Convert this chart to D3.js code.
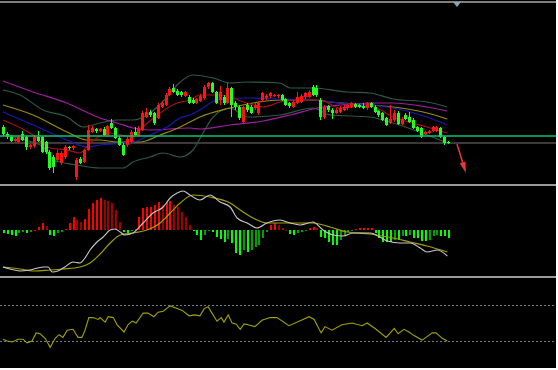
<!DOCTYPE html>
<html>
<head>
<meta charset="utf-8">
<script src="https://cdn.jsdelivr.net/npm/d3@7"></script>
<style>
  body { margin: 0; background: #fff; }
  svg { display: block; }
</style>
</head>
<body>
<svg id="chart" width="558" height="370"></svg>
<script>
// ----------------------- DATA -------------------------------
// candles (price units)
var opens  = [58,51,48,44,43,51,48,38,39,48,48,43,33,28,25,22,28,38,37,8,26,23,35,53,56,54,56,50,62,57,47,40,40,43,53,49,55,68,73,72,67,78,80,90,97,94,93,89,88,85,82,84,87,98,102,93,85,88,82,97,82,78,63,80,78,77,72,85,87,89,89,89,90,86,82,78,82,83,88,88,98,97,85,68,79,75,72,73,75,77,78,81,80,79,77,82,78,74,72,67,62,65,72,61,70,68,65,58,57,51,52,54,54,57,48,43];
var closes = [51,48,44,46,48,45,38,40,48,44,33,33,17,18,32,32,38,37,39,25,22,35,55,57,54,56,50,59,57,47,40,30,46,53,50,57,72,73,70,62,80,82,90,96,93,90,90,93,82,82,86,89,98,102,93,82,93,82,97,80,78,67,78,75,72,80,82,92,89,92,90,90,85,80,79,83,88,89,92,93,90,90,68,78,75,72,75,77,78,80,82,78,78,77,82,78,73,70,65,60,66,72,61,66,66,63,57,54,48,53,54,58,58,48,42,42];
var highs  = [60,53,50,47,50,54,49,41,50,54,49,44,35,30,35,34,40,39,40,27,28,36,60,59,57,57,58,60,66,58,49,42,48,55,58,59,74,77,75,73,82,84,92,98,101,96,94,94,90,87,87,91,100,103,103,94,99,90,102,98,84,80,79,82,80,82,84,93,91,93,91,91,91,87,83,85,93,91,93,95,100,100,87,80,80,77,77,79,80,81,83,82,81,82,83,83,80,75,73,68,80,75,74,68,72,73,67,59,58,54,55,59,59,58,49,44];
var lows   = [49,46,43,43,42,44,35,36,37,43,32,31,15,12,23,20,26,35,35,5,21,22,34,52,52,53,49,48,56,46,39,29,38,42,49,48,54,67,68,60,66,77,79,89,92,89,88,88,81,81,81,83,85,96,92,81,80,80,81,68,75,65,61,73,71,75,70,83,85,87,88,87,84,79,77,77,81,82,86,87,89,88,65,66,73,66,71,72,74,75,77,77,77,76,75,77,72,68,64,59,61,63,60,60,65,62,56,53,47,50,51,53,53,47,40,41];

// moving averages / bands as [candle index, price]
var maRed    = [[0,65],[7.8,50],[12.2,37],[16.6,35],[19.9,32],[22.5,42],[27.7,52],[33.6,48],[36.2,58],[40.6,72],[45,82],[48.3,85],[50.9,90],[56.1,90],[63,82],[67.2,78],[71.6,83],[76,85],[81.9,85],[87.1,77],[94.8,79],[100.8,68],[109.6,58],[114.8,52]];
var maBlue   = [[0,73],[7.8,60],[16.6,45],[21.7,38],[25.1,40],[33.6,43],[38,50],[42.4,58],[45.8,67],[48.3,70],[50.9,75],[55.3,85],[63,87],[71.6,86],[80.1,85],[87.1,82],[94.8,80],[100.8,77],[109.6,68],[114.8,60]];
var maOlive  = [[0,80],[7.8,70],[16.6,53],[21.7,45],[25.1,45],[29.5,43],[35.4,43],[40.6,50],[45.8,58],[48.3,63],[50.9,68],[58.7,77],[64.6,82],[71.6,85],[80.1,85],[84.5,83],[94.8,80],[100.8,78],[109.6,72],[114.8,66]];
var maPurple = [[0,104],[7.8,93],[16.5,82],[25.1,67],[29.5,62],[33.6,57],[38,55],[48.3,57],[50.9,56],[58.7,60],[67.2,64],[74.2,70],[81.2,77],[87.1,80],[94.8,82],[100.8,82],[109.6,78],[114.8,74]];
var bandUp   = [[0,95],[4.4,90],[10.4,75],[16.6,68],[20.7,58],[25.1,62],[29.5,65],[33.6,65],[38,72],[42.4,88],[45,100],[49.1,110],[54.3,107],[58.7,102],[63,103],[71.6,102],[74.2,97],[80.1,97],[88.9,93],[94.8,92],[100.8,86],[109.6,83],[114.8,78]];
var bandLow  = [[0,50],[5.7,45],[10.4,38],[13,25],[19.1,20],[25.1,17],[31,17],[33.6,23],[38,28],[41.4,32],[45.8,28],[49.1,35],[51.7,52],[54.3,68],[58.7,77],[63,68],[71.6,70],[80.1,77],[84.5,70],[94.8,68],[100.8,62],[109.6,50],[114.8,42]];
var levelGreen = 49, levelGray = 42;
var arrowFrom = [117.3, 41], arrowTo = [119.6, 12];

// MACD histogram per candle, DIF / DEA lines as [index, value]
var macdHist = [-3,-4,-5,-6,-3,-2,-3,-2,0,3,7,4,-5,-6,-3,-2,1,7,13,10,8,11,21,27,30,32,30,29,27,20,8,-2,-3,-1,1,13,22,23,23,25,28,25,28,29,25,23,18,13,5,-1,-5,-10,-5,-1,-2,-7,-9,-12,-9,-13,-23,-25,-20,-22,-20,-17,-15,-8,-2,5,7,5,2,0,-4,-5,-3,-2,-1,2,3,2,-7,-8,-12,-15,-15,-10,-5,-2,-1,1,2,2,2,2,-3,-8,-12,-12,-12,-10,-10,-6,-6,-5,-8,-8,-11,-11,-10,-6,-5,-6,-6,-8];
var difLine = [[0,-37],[1.8,-39],[4.4,-41],[7,-40],[10.4,-37],[11.7,-37],[12.7,-42],[14.2,-41],[16,-37],[18.1,-32],[19.9,-33],[21.2,-28],[22.5,-20],[24.3,-12],[25.9,-7],[27.7,0],[29,1],[30.3,-2],[31.5,-5],[33.6,-3],[36.2,7],[38.8,17],[41.4,23],[43.2,32],[45,37],[46.5,39],[48.3,35],[50.9,30],[53.5,35],[56.1,28],[58.7,23],[60.5,12],[63.1,7],[65.7,2],[68.2,7],[71.6,10],[74.2,7],[76.8,5],[80.1,8],[82.7,0],[85.3,-5],[87.9,-6],[90.5,-3],[94.9,-3],[97.4,-7],[99.3,-11],[102.6,-13],[105.2,-13],[107.8,-18],[109.6,-22],[112.2,-20],[114.8,-26]];
var deaLine = [[0,-37],[4.4,-39],[7.8,-41],[12.2,-40],[15.5,-39],[19.9,-37],[22.5,-33],[25.1,-24],[27.7,-13],[30.3,-5],[33.6,-3],[37.2,0],[40.6,7],[43.2,17],[45.8,27],[49.1,35],[53.5,33],[58.7,27],[61.3,20],[65.7,10],[68.2,7],[71.6,7],[80.1,7],[84.5,3],[88.9,-2],[94.9,-4],[100.8,-8],[105.2,-12],[109.6,-16],[114.8,-22]];

// RSI as [index, value], guide levels
var rsiLine = [[0,32],[1.1,30],[2.4,29],[3.9,32],[5.2,32],[6.2,28],[7.5,30],[8.6,39],[9.6,38],[10.9,33],[12.2,23],[13.5,33],[14.5,37],[15.5,34],[16.6,42],[18.1,43],[19.4,34],[20.4,34],[21.2,42],[22.2,56],[23.3,56],[24.6,54],[25.1,56],[26.4,51],[27.2,57],[28.5,56],[29.5,48],[31.3,40],[32.3,48],[33.4,52],[34.4,50],[35.4,56],[36.2,61],[37.5,61],[39,57],[40.1,62],[41.4,63],[43.2,69],[44.5,67],[46.3,64],[48.1,58],[49.6,59],[50.9,58],[52,66],[53,68],[54,61],[55.3,52],[56.4,56],[57.1,51],[58.2,59],[59.2,50],[60.2,49],[61.3,43],[62.3,49],[63.3,48],[65.1,46],[66.9,53],[69,56],[70.8,56],[73.9,47],[76.5,52],[79.1,57],[80.4,54],[82.2,39],[83.2,46],[85,42],[87.6,48],[90.2,50],[92.8,47],[94.1,50],[96.4,43],[99,34],[101.1,44],[102.1,38],[103.6,43],[104.9,40],[106.2,36],[108.3,31],[109.3,34],[110.9,39],[111.9,39],[113.5,33],[114.8,30]];
var rsiLevels = [70, 30];

// ----------------------- SETUP -------------------------------
var svg = d3.select("#chart");
var n = opens.length;

svg.append("rect").attr("width", 556).attr("height", 368).attr("fill", "#000");

var x = d3.scaleLinear().domain([-0.5, n - 0.5]).range([1, 450]);
var yPrice = d3.scaleLinear().domain([0, 182]).range([185, 3]);
var yMacd = d3.scaleLinear().domain([-47, 43]).range([277, 187]);
var yRsi = d3.scaleLinear().domain([0, 100]).range([368, 278]);

// pixel-snapped centre of candle i
function cx(i) { return Math.round(x(i)) + 0.5; }

// panel borders
svg.append("line").attr("x1", 0).attr("x2", 556).attr("y1", 2).attr("y2", 2)
    .attr("stroke", "#a8a8a8").attr("stroke-width", 1.5);
[185, 277].forEach(function(yy) {
  svg.append("line").attr("x1", 0).attr("x2", 556).attr("y1", yy).attr("y2", yy)
      .attr("stroke", "#9a9a9a").attr("stroke-width", 2);
});
svg.append("path").attr("d", "M453,2 L461,2 L457,7 Z").attr("fill", "#8ea2b6");

// ----------------------- MAIN PANEL -------------------------------
svg.append("line").attr("x1", 0).attr("x2", 556)
    .attr("y1", yPrice(levelGray)).attr("y2", yPrice(levelGray))
    .attr("stroke", "#3a3a3a").attr("stroke-width", 2);

var priceLine = d3.line()
    .x(function(d) { return x(d[0]); })
    .y(function(d) { return yPrice(d[1]); })
    .curve(d3.curveMonotoneX);

var maSeries = [
  {data: bandUp, color: "#2d5a46"},
  {data: bandLow, color: "#2d5a46"},
  {data: maPurple, color: "#a01ea0"},
  {data: maOlive, color: "#9a8a0a"},
  {data: maBlue, color: "#1818b8"},
  {data: maRed, color: "#a81010"}
];
svg.append("g").selectAll("path")
  .data(maSeries)
  .enter().append("path")
    .attr("d", function(d) { return priceLine(d.data); })
    .attr("fill", "none")
    .attr("stroke", function(d) { return d.color; })
    .attr("stroke-width", 1.2);

var candle = svg.append("g")
    .attr("shape-rendering", "crispEdges")
  .selectAll("g")
  .data(d3.range(n))
  .enter().append("g")
    .attr("fill", function(i) { return closes[i] >= opens[i] ? "#ff1414" : "#22ff22"; })
    .attr("stroke", function(i) { return closes[i] >= opens[i] ? "#ff1414" : "#22ff22"; });

candle.append("line")
    .attr("x1", function(i) { return cx(i); })
    .attr("x2", function(i) { return cx(i); })
    .attr("y1", function(i) { return yPrice(highs[i]); })
    .attr("y2", function(i) { return yPrice(lows[i]); })
    .attr("stroke-width", 1);

candle.append("rect")
    .attr("stroke", "none")
    .attr("x", function(i) { return cx(i) - 1.5; })
    .attr("width", 3)
    .attr("y", function(i) { return yPrice(Math.max(opens[i], closes[i])); })
    .attr("height", function(i) { return Math.max(1, yPrice(Math.min(opens[i], closes[i])) - yPrice(Math.max(opens[i], closes[i]))); });

svg.append("line").attr("x1", 0).attr("x2", 556)
    .attr("y1", yPrice(levelGreen)).attr("y2", yPrice(levelGreen))
    .attr("stroke", "#10c070").attr("stroke-width", 1.6);

// red arrow
var ax1 = x(arrowFrom[0]), ay1 = yPrice(arrowFrom[1]),
    ax2 = x(arrowTo[0]), ay2 = yPrice(arrowTo[1]);
var ang = Math.atan2(ay2 - ay1, ax2 - ax1), headLen = 11, headW = 3;
var bx = ax2 - headLen * Math.cos(ang), by = ay2 - headLen * Math.sin(ang);
svg.append("line").attr("x1", ax1).attr("y1", ay1).attr("x2", bx).attr("y2", by)
    .attr("stroke", "#e83838").attr("stroke-width", 1.5);
svg.append("path")
    .attr("d", "M" + ax2 + "," + ay2 +
      "L" + (bx + headW * Math.sin(ang)) + "," + (by - headW * Math.cos(ang)) +
      "L" + (bx - headW * Math.sin(ang)) + "," + (by + headW * Math.cos(ang)) + "Z")
    .attr("fill", "#e83838");

// ----------------------- MACD PANEL -------------------------------
svg.append("g")
    .attr("shape-rendering", "crispEdges")
  .selectAll("rect")
  .data(macdHist)
  .enter().append("rect")
    .attr("x", function(d, i) { return cx(i) - 1; })
    .attr("width", 2)
    .attr("y", function(d) { return d >= 0 ? yMacd(d) : yMacd(0); })
    .attr("height", function(d) { return Math.max(1, Math.abs(yMacd(d) - yMacd(0))); })
    .attr("fill", function(d, i) {
      var prev = i > 0 ? macdHist[i - 1] : 0;
      if (d >= 0) return d >= prev ? "#ff0000" : "#a00000";
      return d <= prev ? "#00ff00" : "#00a000";
    });

var macdLine = d3.line()
    .x(function(d) { return x(d[0]); })
    .y(function(d) { return yMacd(d[1]); })
    .curve(d3.curveMonotoneX);

svg.append("path").attr("d", macdLine(deaLine))
    .attr("fill", "none").attr("stroke", "#a0a000").attr("stroke-width", 1.2);
svg.append("path").attr("d", macdLine(difLine))
    .attr("fill", "none").attr("stroke", "#c8c8c8").attr("stroke-width", 1.1);

// ----------------------- RSI PANEL -------------------------------
svg.append("g").selectAll("line")
  .data(rsiLevels)
  .enter().append("line")
    .attr("x1", 0).attr("x2", 556)
    .attr("y1", function(d) { return Math.round(yRsi(d)) + 0.5; })
    .attr("y2", function(d) { return Math.round(yRsi(d)) + 0.5; })
    .attr("stroke", "#7a7a7a").attr("stroke-width", 1)
    .attr("stroke-dasharray", "2,2");

svg.append("path")
    .attr("d", d3.line()
      .x(function(d) { return x(d[0]); })
      .y(function(d) { return yRsi(d[1]); })(rsiLine))
    .attr("fill", "none").attr("stroke", "#a0a000").attr("stroke-width", 1.1);
</script>
</body>
</html>
